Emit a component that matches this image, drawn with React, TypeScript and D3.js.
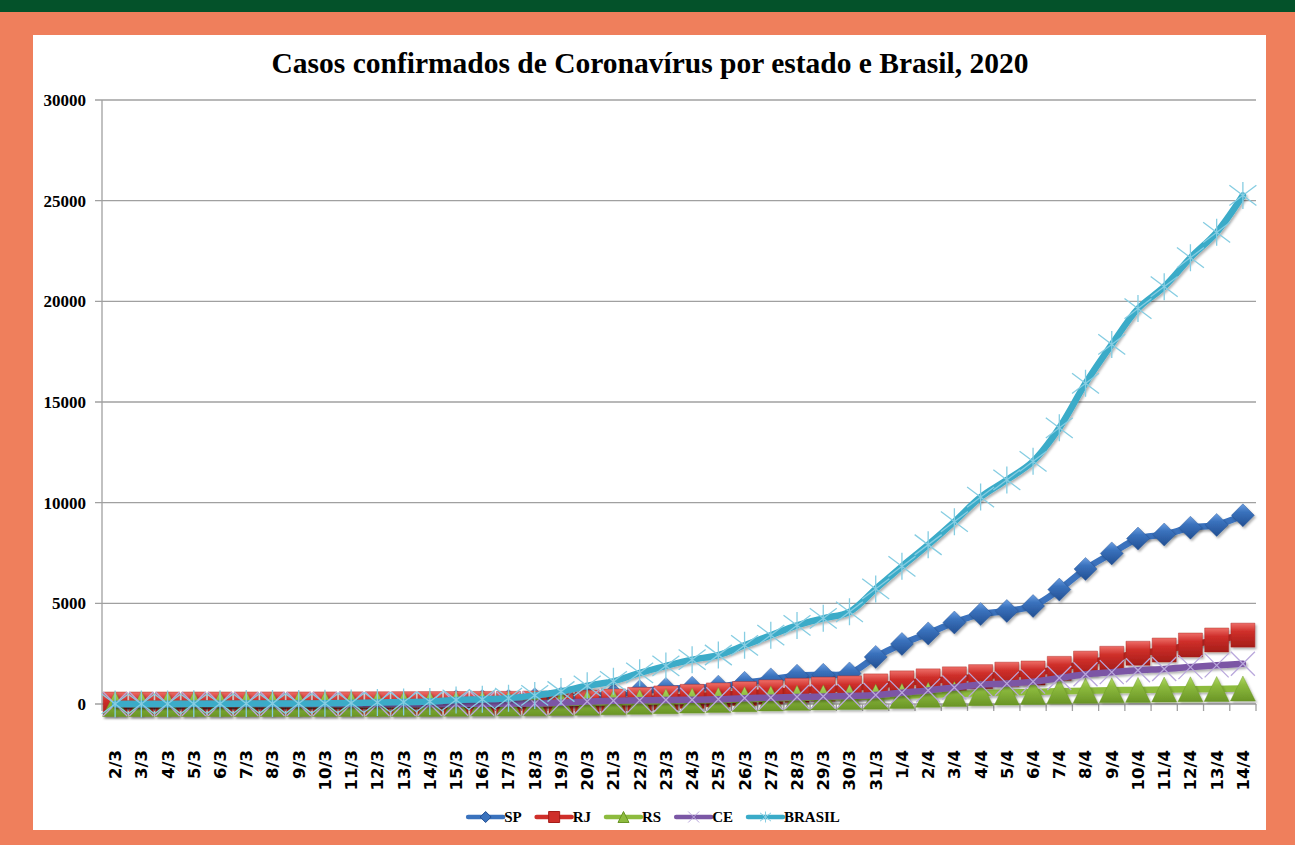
import React, { useEffect, useRef } from 'react';
import * as d3 from 'd3';

// dias (categorias do eixo x)
const dates = [
  '2/3', '3/3', '4/3', '5/3', '6/3', '7/3', '8/3', '9/3', '10/3', '11/3',
  '12/3', '13/3', '14/3', '15/3', '16/3', '17/3', '18/3', '19/3', '20/3', '21/3',
  '22/3', '23/3', '24/3', '25/3', '26/3', '27/3', '28/3', '29/3', '30/3', '31/3',
  '1/4', '2/4', '3/4', '4/4', '5/4', '6/4', '7/4', '8/4', '9/4', '10/4',
  '11/4', '12/4', '13/4', '14/4',
];

const sp = [
  2, 2, 3, 6, 10, 13, 16, 16, 19, 30,
  42, 56, 65, 136, 152, 164, 240, 286, 396, 459,
  631, 745, 810, 862, 1052, 1223, 1406, 1451, 1517, 2339,
  2981, 3506, 4048, 4466, 4620, 4866, 5682, 6708, 7480, 8216,
  8419, 8755, 8895, 9371,
];
const rj = [
  0, 0, 0, 1, 1, 1, 2, 2, 3, 8,
  13, 16, 22, 24, 31, 33, 45, 65, 100, 150,
  230, 300, 380, 450, 520, 600, 680, 740, 800, 900,
  1050, 1150, 1250, 1360, 1480, 1540, 1770, 2030, 2270, 2520,
  2680, 2930, 3180, 3420,
];
const rs = [
  0, 0, 0, 0, 0, 0, 0, 0, 1, 2,
  4, 4, 6, 11, 19, 28, 37, 53, 64, 87,
  108, 141, 168, 201, 241, 278, 305, 327, 346, 363,
  401, 457, 500, 540, 570, 600, 630, 660, 680, 700,
  715, 730, 745, 770,
];
const ce = [
  0, 0, 0, 0, 0, 0, 0, 0, 0, 0,
  0, 0, 0, 9, 10, 20, 24, 68, 125, 164,
  182, 200, 211, 235, 290, 314, 348, 372, 401, 445,
  563, 676, 823, 964, 1013, 1111, 1291, 1478, 1582, 1676,
  1740, 1832, 1920, 2000,
];
const brasil = [
  2, 2, 3, 8, 13, 19, 25, 25, 34, 52,
  77, 98, 121, 200, 234, 291, 428, 621, 904, 1128,
  1546, 1891, 2201, 2433, 2915, 3417, 3904, 4256, 4579, 5717,
  6836, 7910, 9056, 10278, 11130, 12056, 13717, 15927, 17857, 19638,
  20727, 22169, 23430, 25262,
];

const yTicks = [0, 5000, 10000, 15000, 20000, 25000, 30000];
const title = 'Casos confirmados de Coronavírus por estado e Brasil, 2020';

type Marker = 'diamond' | 'square' | 'triangle' | 'x' | 'star';

const series: { name: string; values: number[]; color: string; marker: Marker; light: string; dark: string }[] = [
  { name: 'SP', values: sp, color: '#3a72bd', marker: 'diamond', light: '#6c9fe2', dark: '#224f92' },
  { name: 'RJ', values: rj, color: '#cf2f2a', marker: 'square', light: '#ee6e68', dark: '#a51d19' },
  { name: 'RS', values: rs, color: '#8dbb3e', marker: 'triangle', light: '#b2da66', dark: '#6a9526' },
  { name: 'CE', values: ce, color: '#7b57a5', marker: 'x', light: '#b9a7dc', dark: '#b9a7dc' },
  { name: 'BRASIL', values: brasil, color: '#3aabc8', marker: 'star', light: '#86cde2', dark: '#86cde2' },
];

// caminho do marcador centrado em (0,0)
function markerPath(m: Marker, s: number): string {
  const h = s / 2;
  switch (m) {
    case 'diamond':
      return `M0,${-h}L${h},0L0,${h}L${-h},0Z`;
    case 'square':
      return `M${-h},${-h}H${h}V${h}H${-h}Z`;
    case 'triangle':
      return `M0,${-h}L${h},${h}H${-h}Z`;
    case 'x':
      return `M${-h},${-h}L${h},${h}M${h},${-h}L${-h},${h}`;
    default:
      return `M${-h},${-h * 0.75}L${h},${h * 0.75}M${h},${-h * 0.75}L${-h},${h * 0.75}M0,${-h}V${h}`;
  }
}
const markerSize: Record<Marker, number> = { diamond: 23, square: 24, triangle: 25, x: 24, star: 27 };

const App: React.FC = () => {
  const svgRef = useRef<SVGSVGElement>(null);

  useEffect(() => {
    if (!svgRef.current) return;
    const svg = d3.select(svgRef.current);
    svg.selectAll('*').remove();

    const W = 1295, H = 845;
    const plot = { left: 102, right: 1256, top: 100, bottom: 704 };

    const x = d3.scaleBand<string>().domain(dates).range([plot.left, plot.right]).padding(0);
    const cx = (d: string) => (x(d) as number) + x.bandwidth() / 2;
    const y = d3.scaleLinear().domain([0, 30000]).range([plot.bottom, plot.top]);

    const defs = svg.append('defs');
    const f = defs.append('filter').attr('id', 'shadow').attr('x', '-30%').attr('y', '-30%').attr('width', '160%').attr('height', '160%');
    f.append('feDropShadow').attr('dx', 1.5).attr('dy', 2).attr('stdDeviation', 1.3).attr('flood-color', '#000').attr('flood-opacity', 0.3);
    series.forEach((s, i) => {
      const g = defs.append('linearGradient').attr('id', `grad${i}`).attr('x1', 0).attr('y1', 0).attr('x2', 0).attr('y2', 1);
      g.append('stop').attr('offset', '0%').attr('stop-color', s.light);
      g.append('stop').attr('offset', '35%').attr('stop-color', s.color);
      g.append('stop').attr('offset', '100%').attr('stop-color', s.dark);
    });

    // fundo
    svg.append('rect').attr('width', W).attr('height', H).attr('fill', '#ef7f5c');
    svg.append('rect').attr('width', W).attr('height', 12).attr('fill', '#04522a');
    svg.append('rect').attr('x', 33).attr('y', 35).attr('width', 1233).attr('height', 795).attr('fill', '#fff');

    // título
    svg.append('text')
      .attr('x', 650).attr('y', 73)
      .attr('text-anchor', 'middle')
      .style('font', 'bold 29.5px "Liberation Serif", serif')
      .attr('fill', '#000')
      .text(title);

    // grade e eixo y
    svg.append('g').selectAll('line').data(yTicks).join('line')
      .attr('x1', plot.left - 7).attr('x2', plot.right)
      .attr('y1', d => y(d)).attr('y2', d => y(d))
      .attr('stroke', '#a0a0a0').attr('stroke-width', 1.3);
    svg.append('line')
      .attr('x1', plot.left).attr('x2', plot.left).attr('y1', plot.top).attr('y2', plot.bottom)
      .attr('stroke', '#a0a0a0').attr('stroke-width', 1.3);
    svg.append('g').selectAll('text').data(yTicks).join('text')
      .attr('x', 86).attr('y', d => y(d)).attr('dy', '0.35em')
      .attr('text-anchor', 'end')
      .style('font', 'bold 17px "Liberation Serif", serif')
      .text(d => String(d));

    // marcas do eixo x
    const bounds = dates.map(d => x(d) as number).concat([plot.right]);
    svg.append('g').selectAll('line').data(bounds).join('line')
      .attr('x1', d => d).attr('x2', d => d).attr('y1', plot.bottom).attr('y2', plot.bottom + 7)
      .attr('stroke', '#a0a0a0').attr('stroke-width', 1.3);
    svg.append('g').selectAll('text').data(dates).join('text')
      .attr('transform', d => `translate(${cx(d)},750) rotate(-90)`)
      .attr('dy', '0.36em')
      .attr('text-anchor', 'end')
      .style('font', 'bold 16.5px "DejaVu Sans", sans-serif')
      .text(d => d);

    // séries
    const line = d3.line<number>()
      .x((_, i) => cx(dates[i]))
      .y(v => y(v))
      .curve(d3.curveCatmullRom.alpha(0.5));

    series.forEach((s, si) => {
      const g = svg.append('g');
      g.append('path')
        .attr('d', line(s.values))
        .attr('fill', 'none')
        .attr('stroke', s.color)
        .attr('stroke-width', 6.5)
        .attr('stroke-linejoin', 'round')
        .attr('stroke-linecap', 'round')
        .attr('filter', 'url(#shadow)');
      const filled = s.marker === 'diamond' || s.marker === 'square' || s.marker === 'triangle';
      g.append('g').attr('filter', filled ? 'url(#shadow)' : null)
        .selectAll('path').data(s.values).join('path')
        .attr('transform', (v, i) => `translate(${cx(dates[i])},${y(v)})`)
        .attr('d', markerPath(s.marker, markerSize[s.marker]))
        .attr('fill', filled ? `url(#grad${si})` : 'none')
        .attr('stroke', filled ? s.dark : s.light)
        .attr('stroke-opacity', filled ? 0.5 : 1)
        .attr('stroke-width', filled ? 0.8 : 1.3);
    });

    // legenda
    const legend = svg.append('g').attr('transform', 'translate(0,817)');
    let lx = 0;
    const items = series.map(s => {
      const it = legend.append('g');
      it.append('line').attr('x1', 0).attr('x2', 35).attr('stroke', s.color).attr('stroke-width', 4.5).attr('stroke-linecap', 'round');
      const filled = s.marker === 'diamond' || s.marker === 'square' || s.marker === 'triangle';
      it.append('path')
        .attr('transform', 'translate(17.5,0)')
        .attr('d', markerPath(s.marker, 11))
        .attr('fill', filled ? s.color : 'none')
        .attr('stroke', filled ? s.dark : s.light)
        .attr('stroke-width', 1);
      const t = it.append('text').attr('x', 36).attr('dy', '0.35em')
        .style('font', 'bold 15px "Liberation Serif", serif')
        .text(s.name);
      const w = 36 + (t.node() as SVGTextElement).getComputedTextLength();
      const pos = lx;
      lx += w + 15;
      return { it, pos };
    });
    const total = lx - 15;
    const start = 654 - total / 2;
    items.forEach(({ it, pos }) => it.attr('transform', `translate(${start + pos},0)`));
  }, []);

  return (
    <div style={{ position: 'absolute', left: 0, top: 0, width: 1295, height: 845 }}>
      <svg ref={svgRef} width={1295} height={845} style={{ display: 'block' }} />
    </div>
  );
};

export default App;
